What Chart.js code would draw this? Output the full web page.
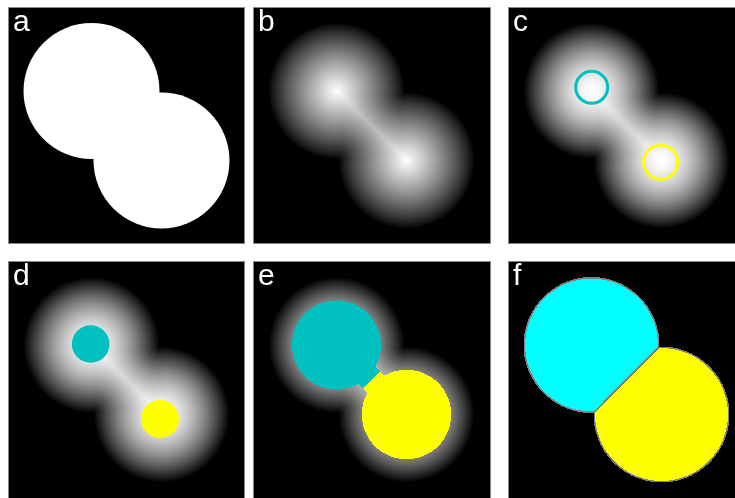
<!DOCTYPE html>
<html>
<head>
<meta charset="utf-8">
<script src="https://cdn.jsdelivr.net/npm/chart.js@4.4.1/dist/chart.umd.min.js"></script>
<style>
  html, body { margin: 0; padding: 0; background: #fff; width: 735px; height: 498px; overflow: hidden; }
  .panel { position: absolute; }
  .panel canvas { display: block; }
</style>
</head>
<body>
<div class="panel" style="left:8px;top:7px;width:237px;height:237px"><canvas id="pa"></canvas></div>
<div class="panel" style="left:253px;top:7px;width:238px;height:237px"><canvas id="pb"></canvas></div>
<div class="panel" style="left:508px;top:7px;width:237px;height:237px"><canvas id="pc"></canvas></div>
<div class="panel" style="left:8px;top:261px;width:237px;height:240px"><canvas id="pd"></canvas></div>
<div class="panel" style="left:253px;top:261px;width:238px;height:240px"><canvas id="pe"></canvas></div>
<div class="panel" style="left:508px;top:261px;width:237px;height:240px"><canvas id="pf"></canvas></div>
<script>
// Binary object: two overlapping disks (panel pixel units, y downwards)
const objectX = [83.5, 153.5];
const objectY = [84, 153.5];
const objectR = [68, 68];

// Seed markers at the two maxima of the distance map
const ringX = [83.7, 152.7];
const ringY = [80.3, 155.3];
const ringR = [16, 17];
const seedX = [82.7, 152];
const seedY = [83, 158];
const seedR = [18.8, 19];

// Flooding stage: radius reached by each basin, and the level that opens the neck
const floodR = [44.5, 44.7];
const neckLevel = 35;

const panelLabels = ['a', 'b', 'c', 'd', 'e', 'f'];
const seedColors = ['rgb(0,192,192)', 'rgb(255,255,0)'];
const seedRGB = [[0, 192, 192], [255, 255, 0]];
const finalRGB = [[0, 255, 255], [255, 255, 0]];

// Intersection points of the two outlines (the neck corners)
const corners = (() => {
  const dx = objectX[1] - objectX[0], dy = objectY[1] - objectY[0];
  const D = Math.hypot(dx, dy);
  const a = (objectR[0] ** 2 - objectR[1] ** 2 + D * D) / (2 * D);
  const h = Math.sqrt(Math.max(0, objectR[0] ** 2 - a * a));
  const mx = objectX[0] + a * dx / D, my = objectY[0] + a * dy / D;
  return [[mx - h * dy / D, my + h * dx / D], [mx + h * dy / D, my - h * dx / D]];
})();
const maxDepth = Math.max(...objectR);

// Euclidean distance from a point inside the object to the object's outline
function depth(px, py) {
  let inside = false;
  for (let i = 0; i < objectR.length; i++) {
    if (Math.hypot(px - objectX[i], py - objectY[i]) < objectR[i]) inside = true;
  }
  if (!inside) return 0;
  const toCorner = Math.min(...corners.map(c => Math.hypot(px - c[0], py - c[1])));
  let best = Infinity;
  for (let i = 0; i < objectR.length; i++) {
    const j = 1 - i;
    const d = Math.hypot(px - objectX[i], py - objectY[i]);
    const ux = d > 1e-9 ? (px - objectX[i]) / d : 1, uy = d > 1e-9 ? (py - objectY[i]) / d : 0;
    const qx = objectX[i] + objectR[i] * ux, qy = objectY[i] + objectR[i] * uy;
    const onExposedArc = Math.hypot(qx - objectX[j], qy - objectY[j]) >= objectR[j];
    best = Math.min(best, onExposedArc ? Math.abs(objectR[i] - d) : toCorner);
  }
  return best;
}

function nearestBasin(px, py) {
  const d0 = Math.hypot(px - objectX[0], py - objectY[0]);
  const d1 = Math.hypot(px - objectX[1], py - objectY[1]);
  return d0 <= d1 ? 0 : 1;
}

// Signed distance to the dividing line between the two basins
function fromDivide(px, py) {
  const dx = objectX[1] - objectX[0], dy = objectY[1] - objectY[0];
  const D = Math.hypot(dx, dy);
  const mx = (objectX[0] + objectX[1]) / 2, my = (objectY[0] + objectY[1]) / 2;
  return ((px - mx) * dx + (py - my) * dy) / D;
}

// Grey level of the distance map: plain power curve, or an ease-out stretch
function grey(dt, gamma) {
  const v = Math.round(255 * Math.pow(Math.max(0, dt) / maxDepth, gamma));
  return [v, v, v];
}
function greyStretched(dt) {
  const t = 1 - Math.min(1, Math.max(0, dt) / maxDepth);
  const v = Math.round(255 * (1 - Math.pow(t, 1.6)));
  return [v, v, v];
}

// Per-pixel shading functions for each panel
const shaders = {
  b: (x, y) => grey(depth(x, y), 0.85),
  c: (x, y) => greyStretched(depth(x, y)),
  d: (x, y) => greyStretched(depth(x, y)),
  e: (x, y) => {
    const dt = depth(x, y);
    if (dt <= 0) return [0, 0, 0];
    const k = nearestBasin(x, y);
    if (Math.hypot(x - objectX[k], y - objectY[k]) <= floodR[k] || dt >= neckLevel) return seedRGB[k];
    return greyStretched(dt);
  },
  f: (x, y) => {
    const dt = depth(x, y);
    if (dt <= 0) return [0, 0, 0];
    if (dt < 1.6 || Math.abs(fromDivide(x, y)) < 1.0) return [128, 128, 128];
    return finalRGB[nearestBasin(x, y)];
  }
};

function rasterPlugin(key) {
  return {
    id: 'raster',
    beforeDatasetsDraw(chart) {
      const { ctx, chartArea, scales } = chart;
      const { left, top, right, bottom } = chartArea;
      const w = Math.round(right - left), h = Math.round(bottom - top);
      const img = ctx.createImageData(w, h);
      const shade = shaders[key];
      for (let j = 0; j < h; j++) {
        const vy = scales.y.getValueForPixel(top + j + 0.5);
        for (let i = 0; i < w; i++) {
          const vx = scales.x.getValueForPixel(left + i + 0.5);
          const c = shade(vx, vy);
          const o = (j * w + i) * 4;
          img.data[o] = c[0]; img.data[o + 1] = c[1]; img.data[o + 2] = c[2]; img.data[o + 3] = 255;
        }
      }
      ctx.putImageData(img, left, top);
    }
  };
}

const framePlugin = {
  id: 'frame',
  beforeDraw(chart) {
    const { ctx, chartArea: { left, top, right, bottom } } = chart;
    ctx.save();
    ctx.fillStyle = '#000';
    ctx.fillRect(left, top, right - left, bottom - top);
    ctx.restore();
  },
  afterDraw(chart) {
    const { ctx, chartArea: { left, top, right, bottom } } = chart;
    ctx.save();
    ctx.strokeStyle = 'rgba(150,150,150,0.9)';
    ctx.lineWidth = 1;
    ctx.strokeRect(left + 0.5, top + 0.5, right - left - 1, bottom - top - 1);
    ctx.fillStyle = '#fff';
    ctx.font = '30px "Liberation Sans", Arial, sans-serif';
    ctx.textBaseline = 'alphabetic';
    ctx.fillText(chart.options.plugins.panelLabel.text, left + 5, top + 24);
    ctx.restore();
  }
};

// Radius in pixels for a radius given in data units
const scaledRadius = (ctx) => {
  const s = ctx.chart.scales.x;
  return ctx.raw ? Math.abs(s.getPixelForValue(ctx.raw.r) - s.getPixelForValue(0)) : 0;
};

const toPoints = (xs, ys, rs) => xs.map((x, i) => ({ x, y: ys[i], r: rs[i] }));

function makePanel(id, label, datasets, extraPlugins) {
  const canvas = document.getElementById(id);
  const box = canvas.parentElement;
  const w = box.clientWidth, h = box.clientHeight;
  return new Chart(canvas, {
    type: 'scatter',
    data: { datasets },
    options: {
      responsive: true,
      maintainAspectRatio: false,
      animation: false,
      events: [],
      layout: { padding: 0 },
      scales: {
        x: { type: 'linear', min: 0, max: w, display: false },
        y: { type: 'linear', min: 0, max: h, reverse: true, display: false }
      },
      plugins: {
        legend: { display: false },
        tooltip: { enabled: false },
        panelLabel: { text: label }
      }
    },
    plugins: [framePlugin, ...extraPlugins]
  });
}

// a: binary object
makePanel('pa', panelLabels[0], [{
  label: 'object',
  data: toPoints(objectX, objectY, objectR),
  pointRadius: scaledRadius,
  pointHoverRadius: scaledRadius,
  backgroundColor: '#fff',
  borderWidth: 0
}], []);

// b: distance map
makePanel('pb', panelLabels[1], [], [rasterPlugin('b')]);

// c: seed positions on the distance map
makePanel('pc', panelLabels[2], [{
  label: 'seeds',
  data: toPoints(ringX, ringY, ringR),
  pointRadius: scaledRadius,
  pointHoverRadius: scaledRadius,
  backgroundColor: 'rgba(0,0,0,0)',
  borderColor: seedColors,
  borderWidth: 3
}], [rasterPlugin('c')]);

// d: labelled seeds
makePanel('pd', panelLabels[3], [{
  label: 'markers',
  data: toPoints(seedX, seedY, seedR),
  pointRadius: scaledRadius,
  pointHoverRadius: scaledRadius,
  backgroundColor: seedColors,
  borderWidth: 0
}], [rasterPlugin('d')]);

// e: basins during flooding
makePanel('pe', panelLabels[4], [], [rasterPlugin('e')]);

// f: final segmentation
makePanel('pf', panelLabels[5], [], [rasterPlugin('f')]);
</script>
</body>
</html>
